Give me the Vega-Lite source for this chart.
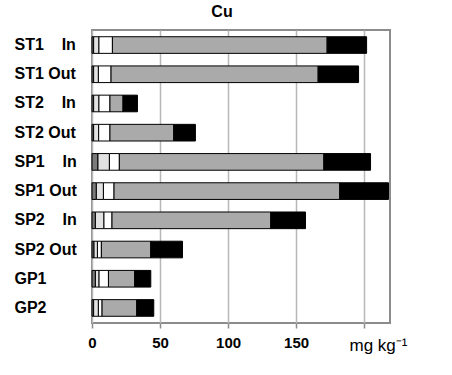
{
  "$schema": "https://vega.github.io/schema/vega-lite/v6.json",
  "autosize": "none",
  "width": 298,
  "height": 293,
  "padding": {"left": 92, "top": 30, "right": 62, "bottom": 52},
  "background": "white",
  "title": {
    "text": "Cu",
    "font": "Liberation Sans",
    "fontSize": 16,
    "fontWeight": "bold",
    "color": "#000000",
    "anchor": "middle",
    "frame": "group",
    "dx": -19,
    "baseline": "alphabetic",
    "offset": -3
  },
  "config": {
    "view": {"stroke": "#8c8c8c", "strokeWidth": 2},
    "font": "Liberation Sans"
  },
  "data": {
    "values": [
      {"site": "ST1\u00a0\u00a0\u00a0\u00a0In", "fraction": "F1", "value": 1.2},
      {"site": "ST1\u00a0\u00a0\u00a0\u00a0In", "fraction": "F2", "value": 3.9},
      {"site": "ST1\u00a0\u00a0\u00a0\u00a0In", "fraction": "F3", "value": 9.9},
      {"site": "ST1\u00a0\u00a0\u00a0\u00a0In", "fraction": "F4", "value": 157.8},
      {"site": "ST1\u00a0\u00a0\u00a0\u00a0In", "fraction": "F5", "value": 29.0},
      {"site": "ST1 Out", "fraction": "F1", "value": 1.2},
      {"site": "ST1 Out", "fraction": "F2", "value": 3.5},
      {"site": "ST1 Out", "fraction": "F3", "value": 9.3},
      {"site": "ST1 Out", "fraction": "F4", "value": 152.2},
      {"site": "ST1 Out", "fraction": "F5", "value": 29.7},
      {"site": "ST2\u00a0\u00a0\u00a0\u00a0In", "fraction": "F1", "value": 1.2},
      {"site": "ST2\u00a0\u00a0\u00a0\u00a0In", "fraction": "F2", "value": 3.9},
      {"site": "ST2\u00a0\u00a0\u00a0\u00a0In", "fraction": "F3", "value": 8.1},
      {"site": "ST2\u00a0\u00a0\u00a0\u00a0In", "fraction": "F4", "value": 9.6},
      {"site": "ST2\u00a0\u00a0\u00a0\u00a0In", "fraction": "F5", "value": 10.6},
      {"site": "ST2 Out", "fraction": "F1", "value": 1.2},
      {"site": "ST2 Out", "fraction": "F2", "value": 3.7},
      {"site": "ST2 Out", "fraction": "F3", "value": 8.3},
      {"site": "ST2 Out", "fraction": "F4", "value": 46.9},
      {"site": "ST2 Out", "fraction": "F5", "value": 15.9},
      {"site": "SP1\u00a0\u00a0\u00a0\u00a0In", "fraction": "F1", "value": 4.4},
      {"site": "SP1\u00a0\u00a0\u00a0\u00a0In", "fraction": "F2", "value": 8.4},
      {"site": "SP1\u00a0\u00a0\u00a0\u00a0In", "fraction": "F3", "value": 7.3},
      {"site": "SP1\u00a0\u00a0\u00a0\u00a0In", "fraction": "F4", "value": 150.3},
      {"site": "SP1\u00a0\u00a0\u00a0\u00a0In", "fraction": "F5", "value": 34.3},
      {"site": "SP1 Out", "fraction": "F1", "value": 3.2},
      {"site": "SP1 Out", "fraction": "F2", "value": 5.2},
      {"site": "SP1 Out", "fraction": "F3", "value": 7.8},
      {"site": "SP1 Out", "fraction": "F4", "value": 165.9},
      {"site": "SP1 Out", "fraction": "F5", "value": 35.8},
      {"site": "SP2\u00a0\u00a0\u00a0\u00a0In", "fraction": "F1", "value": 2.5},
      {"site": "SP2\u00a0\u00a0\u00a0\u00a0In", "fraction": "F2", "value": 6.3},
      {"site": "SP2\u00a0\u00a0\u00a0\u00a0In", "fraction": "F3", "value": 5.9},
      {"site": "SP2\u00a0\u00a0\u00a0\u00a0In", "fraction": "F4", "value": 116.7},
      {"site": "SP2\u00a0\u00a0\u00a0\u00a0In", "fraction": "F5", "value": 25.5},
      {"site": "SP2 Out", "fraction": "F1", "value": 1.5},
      {"site": "SP2 Out", "fraction": "F2", "value": 2.5},
      {"site": "SP2 Out", "fraction": "F3", "value": 2.9},
      {"site": "SP2 Out", "fraction": "F4", "value": 36.3},
      {"site": "SP2 Out", "fraction": "F5", "value": 23.3},
      {"site": "GP1", "fraction": "F1", "value": 2.5},
      {"site": "GP1", "fraction": "F2", "value": 2.7},
      {"site": "GP1", "fraction": "F3", "value": 6.9},
      {"site": "GP1", "fraction": "F4", "value": 19.3},
      {"site": "GP1", "fraction": "F5", "value": 11.8},
      {"site": "GP2", "fraction": "F1", "value": 1.2},
      {"site": "GP2", "fraction": "F2", "value": 3.5},
      {"site": "GP2", "fraction": "F3", "value": 2.7},
      {"site": "GP2", "fraction": "F4", "value": 25.5},
      {"site": "GP2", "fraction": "F5", "value": 12.5}
    ]
  },
  "mark": {"type": "bar", "stroke": "#000000", "strokeWidth": 1},
  "encoding": {
    "y": {
      "field": "site",
      "type": "nominal",
      "sort": null,
      "scale": {"paddingInner": 0.43, "paddingOuter": 0.23},
      "axis": {
        "title": null,
        "domain": false,
        "ticks": false,
        "labelAlign": "left",
        "labelPadding": 78,
        "labelFont": "Liberation Sans",
        "labelFontSize": 16,
        "labelFontWeight": "bold",
        "labelColor": "#000000",
        "labelBaseline": "middle"
      }
    },
    "x": {
      "field": "value",
      "type": "quantitative",
      "stack": "zero",
      "scale": {"domain": [0, 219], "nice": false, "zero": true},
      "axis": {
        "values": [0, 50, 100, 150, 200],
        "labelExpr": "datum.value == 200 ? '' : datum.label",
        "labelFlush": false,
        "domain": false,
        "grid": true,
        "gridColor": "#b8b8b8",
        "gridWidth": 1.5,
        "ticks": true,
        "tickColor": "#8c8c8c",
        "tickSize": 5,
        "tickWidth": 1.5,
        "labelPadding": 7,
        "labelFont": "Liberation Sans",
        "labelFontSize": 15,
        "labelFontWeight": "bold",
        "labelColor": "#000000",
        "title": "mg kg\u207b\u00b9",
        "titleFont": "Liberation Sans",
        "titleFontSize": 17,
        "titleFontWeight": "normal",
        "titleColor": "#000000",
        "titleAnchor": "start",
        "titleAlign": "left",
        "titleBaseline": "alphabetic",
        "titleX": 257,
        "titleY": 27
      }
    },
    "color": {
      "field": "fraction",
      "type": "nominal",
      "scale": {
        "domain": ["F1", "F2", "F3", "F4", "F5"],
        "range": ["#7a7a7a", "#e2e2e2", "#ffffff", "#aaaaaa", "#000000"]
      },
      "legend": null
    },
    "order": {"field": "fraction", "type": "ordinal", "sort": "ascending"}
  }
}
